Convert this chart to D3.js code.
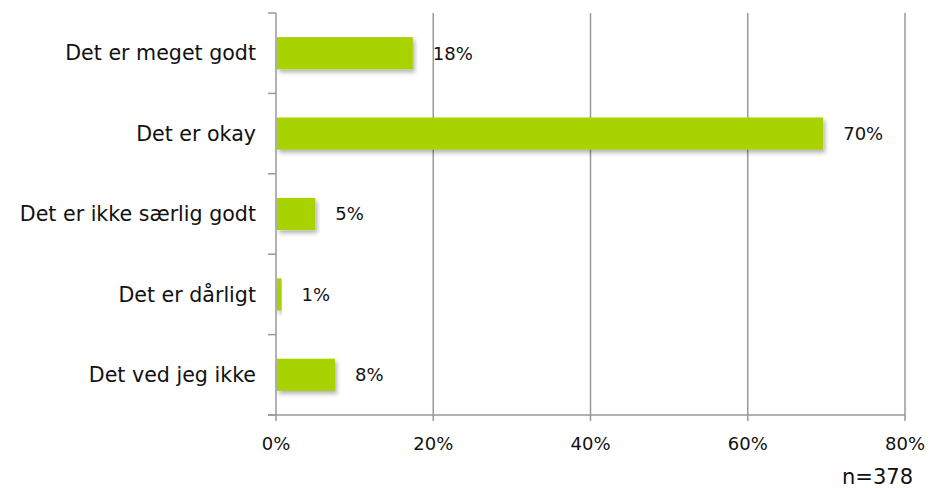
<!DOCTYPE html>
<html>
<head>
<meta charset="utf-8">
<script src="https://cdn.jsdelivr.net/npm/d3@7"></script>
<style>
  body { margin: 0; background: #fff; }
  text { font-family: "DejaVu Sans", sans-serif; fill: #111; }
</style>
</head>
<body>
<div id="chart"></div>
<script>
const categories = ["Det er meget godt", "Det er okay", "Det er ikke særlig godt", "Det er dårligt", "Det ved jeg ikke"];
const values = [17.4, 69.6, 5.0, 0.7, 7.5];
const valueLabels = ["18%", "70%", "5%", "1%", "8%"];
const xTicks = [0, 20, 40, 60, 80];
const sampleNote = "n=378";

const W = 943, H = 488;
const margin = { top: 13, right: 38, bottom: 73, left: 276 };
const width = W - margin.left - margin.right;
const height = H - margin.top - margin.bottom;

const svg = d3.select("#chart").append("svg")
  .attr("width", W)
  .attr("height", H);

const defs = svg.append("defs");
const shadow = defs.append("filter").attr("id", "shadow")
  .attr("x", "-5%").attr("y", "-20%").attr("width", "115%").attr("height", "160%");
shadow.append("feDropShadow")
  .attr("dx", 2).attr("dy", 3).attr("stdDeviation", 2)
  .attr("flood-color", "#000").attr("flood-opacity", 0.3);

const g = svg.append("g").attr("transform", `translate(${margin.left},${margin.top})`);

const x = d3.scaleLinear().domain([0, 80]).range([0, width]);
const y = d3.scaleBand().domain(categories).range([0, height]).paddingInner(0.6).paddingOuter(0.3);

// gridlines
g.selectAll(".grid")
  .data(xTicks.slice(1))
  .enter().append("line")
  .attr("x1", d => x(d)).attr("x2", d => x(d))
  .attr("y1", 0).attr("y2", height + 6)
  .attr("stroke", "#999").attr("stroke-width", 1.5);

// left axis line + category boundary ticks
const step = height / categories.length;
g.append("line")
  .attr("x1", 0).attr("x2", 0).attr("y1", 0).attr("y2", height + 6)
  .attr("stroke", "#999").attr("stroke-width", 1.5);
g.selectAll(".ytick")
  .data(d3.range(categories.length + 1))
  .enter().append("line")
  .attr("x1", -8).attr("x2", 0)
  .attr("y1", d => d * step).attr("y2", d => d * step)
  .attr("stroke", "#999").attr("stroke-width", 1.5);

// bottom axis line
g.append("line")
  .attr("x1", -8).attr("x2", width).attr("y1", height).attr("y2", height)
  .attr("stroke", "#999").attr("stroke-width", 1.5);

// bars
g.selectAll(".bar")
  .data(values)
  .enter().append("rect")
  .attr("x", 1)
  .attr("y", (d, i) => y(categories[i]))
  .attr("width", d => x(d) - 1)
  .attr("height", y.bandwidth())
  .attr("fill", "#a8d200")
  .attr("filter", "url(#shadow)");

// value labels
g.selectAll(".vlabel")
  .data(values)
  .enter().append("text")
  .attr("x", d => x(d) + 20)
  .attr("y", (d, i) => y(categories[i]) + y.bandwidth() / 2)
  .attr("dy", "0.35em")
  .attr("font-size", "18px")
  .text((d, i) => valueLabels[i]);

// category labels
g.selectAll(".clabel")
  .data(categories)
  .enter().append("text")
  .attr("x", -20)
  .attr("y", d => y(d) + y.bandwidth() / 2)
  .attr("dy", "0.35em")
  .attr("text-anchor", "end")
  .attr("font-size", "20.6px")
  .text(d => d);

// x tick labels
g.selectAll(".xlabel")
  .data(xTicks)
  .enter().append("text")
  .attr("x", d => x(d))
  .attr("y", height + 35)
  .attr("text-anchor", "middle")
  .attr("font-size", "18px")
  .text(d => d + "%");

svg.append("text")
  .attr("x", 913)
  .attr("y", 484)
  .attr("text-anchor", "end")
  .attr("font-size", "21px")
  .text(sampleNote);
</script>
</body>
</html>
